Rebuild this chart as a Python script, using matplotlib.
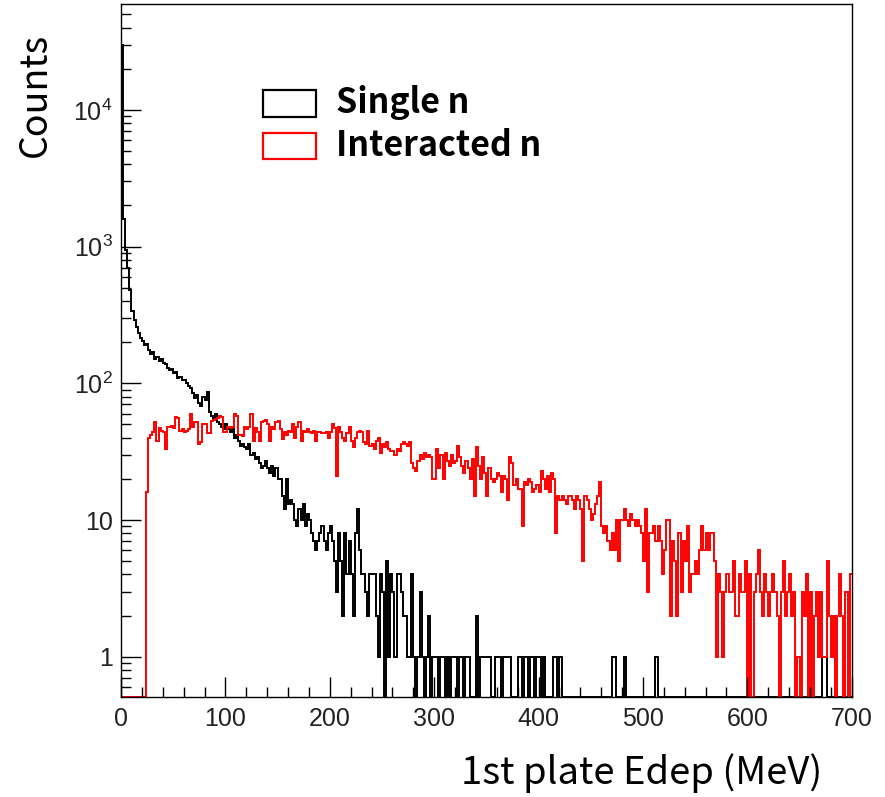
import numpy as np
import matplotlib
matplotlib.use('Agg')
import matplotlib.pyplot as plt
from matplotlib.patches import Rectangle

# fonts: Helvetica-like for the ROOT tick labels, Noto for titles/legend
tick_font = ['Liberation Sans', 'DejaVu Sans']
title_font = ['Noto Sans CJK KR', 'Noto Sans', 'DejaVu Sans']
plt.rcParams['font.family'] = tick_font
plt.rcParams['mathtext.fontset'] = 'custom'
plt.rcParams['mathtext.rm'] = 'Liberation Sans'
plt.rcParams['mathtext.it'] = 'Liberation Sans'

# histogram binning: 350 bins of 2 MeV from 0 to 700
edges = np.linspace(0, 700, 351)

# Single n (counts per bin)
single_n = [
    30000, 1600, 950, 700, 480, 340, 290, 260, 235, 215,
    205, 190, 195, 175, 165, 170, 150, 155, 145, 150,
    140, 138, 130, 125, 128, 118, 120, 110, 112, 105,
    105, 100, 96, 92, 85, 78, 82, 72, 68, 80,
    75, 86, 62, 58, 55, 60, 52, 50, 48, 46,
    50, 46, 44, 48, 40, 42, 38, 35, 36, 34,
    33, 36, 30, 31, 28, 29, 26, 24, 25, 27,
    24, 22, 25, 21, 24, 20, 20, 15, 12, 20,
    13, 14, 13, 10, 9, 12, 10, 13, 9, 11,
    10, 8, 7, 6, 7, 8, 9, 7, 6, 8,
    9, 7, 5, 3, 8, 5, 2, 8, 4, 7,
    4, 2, 8, 12, 6, 4, 4, 3, 2, 4,
    4, 4, 2, 1, 4, 3, 0, 5, 1, 4,
    3, 1, 4, 4, 3, 2, 2, 1, 1, 4,
    1, 0, 1, 3, 1, 0, 1, 2, 0, 1,
    1, 1, 0, 1, 1, 0, 1, 0, 1, 1,
    1, 0, 1, 1, 0, 1, 1, 0, 0, 0,
    2, 0, 1, 1, 1, 1, 1, 0, 0, 1,
    1, 1, 0, 1, 1, 1, 1, 0, 0, 0,
    1, 1, 0, 1, 1, 0, 1, 1, 0, 1,
    1, 0, 1, 0, 0, 0, 0, 1, 1, 0,
    1, 0, 0, 0, 0, 0, 0, 0, 0, 0,
    0, 0, 0, 0, 0, 0, 0, 0, 0, 0,
    0, 0, 0, 0, 0, 1, 1, 0, 0, 0,
    0, 1, 0, 0, 0, 0, 0, 0, 0, 0,
    0, 0, 0, 0, 0, 0, 1, 0, 0, 0,
] + [0] * 70 + [
    0, 0, 0, 0, 0, 0, 1, 1, 0, 0,
    0, 0, 0, 0, 0, 0, 0, 0, 0, 0,
]

# Interacted n (counts per bin)
interacted_n = [
    0, 0, 0, 0, 0, 0, 0, 0, 0, 0,
    0, 0, 16, 40, 42, 44, 52, 38, 47, 45,
    44, 33, 48, 48, 49, 47, 57, 56, 45, 46,
    44, 45, 46, 60, 48, 52, 52, 36, 37, 50,
    50, 43, 43, 53, 54, 55, 56, 58, 57, 44,
    44, 48, 47, 48, 60, 58, 42, 42, 41, 48,
    46, 48, 60, 38, 47, 44, 38, 52, 53, 54,
    50, 38, 48, 46, 52, 53, 46, 39, 44, 42,
    45, 44, 50, 40, 48, 52, 38, 45, 44, 46,
    44, 43, 45, 38, 44, 44, 43, 43, 44, 40,
    44, 50, 47, 21, 48, 44, 40, 38, 43, 48,
    38, 34, 40, 44, 45, 44, 37, 36, 45, 35,
    36, 33, 38, 40, 31, 36, 34, 37, 33, 32,
    32, 30, 33, 32, 36, 37, 36, 35, 37, 26,
    24, 23, 27, 30, 28, 31, 29, 30, 29, 20,
    20, 33, 24, 30, 20, 31, 27, 25, 30, 26,
    27, 35, 29, 25, 22, 27, 24, 20, 28, 15,
    34, 25, 20, 29, 22, 15, 24, 20, 19, 20,
    22, 21, 16, 21, 20, 14, 29, 26, 18, 20,
    17, 17, 9, 19, 18, 20, 19, 16, 17, 18,
    16, 23, 20, 17, 21, 16, 22, 20, 8, 15,
    14, 15, 14, 13, 15, 15, 14, 12, 15, 14,
    12, 5, 15, 14, 12, 10, 11, 13, 15, 19,
    9, 8, 9, 7, 6, 8, 6, 10, 5, 10,
    10, 12, 10, 9, 11, 10, 9, 10, 9, 8,
    5, 12, 3, 8, 8, 9, 7, 9, 7, 4,
    6, 10, 10, 2, 7, 5, 2, 8, 3, 7,
    5, 9, 3, 4, 4, 5, 4, 6, 9, 6,
    8, 6, 8, 8, 5, 1, 4, 3, 1, 3,
    4, 3, 3, 5, 2, 2, 4, 3, 3, 5,
    0, 4, 0, 3, 4, 6, 3, 2, 4, 3,
    2, 3, 4, 3, 2, 0, 3, 5, 2, 3,
    4, 2, 3, 0, 1, 0, 3, 2, 4, 0,
    3, 0, 2, 3, 1, 3, 1, 1, 5, 2,
    1, 2, 0, 2, 4, 2, 0, 3, 0, 4,
]

labels = ['Single n', 'Interacted n']
colors = ['black', '#ff0000']

ymin, ymax = 0.505, 5.95e4

fig = plt.figure(figsize=(8.85, 7.97), dpi=100)
ax = fig.add_axes([121/885, 99.7/797, 730.7/885, 693.3/797])

# empty bins are drawn along the bottom of the frame, like ROOT does
for vals, col in zip([single_n, interacted_n], colors):
    v = np.array(vals, dtype=float)
    v = np.where(v > 0, v, ymin)
    ax.stairs(v, edges, color=col, linewidth=1.4, baseline=None)

ax.set_yscale('log')
ax.set_xlim(0, 700)
ax.set_ylim(ymin, ymax)

ax.set_xticks(np.arange(0, 701, 100))
ax.set_xticks(np.arange(0, 701, 20), minor=True)
ax.set_yticks([1, 10, 100, 1000, 10000])
ax.set_yticklabels(['1', '10', r'$10^{2}$', r'$10^{3}$', r'$10^{4}$'])
ax.yaxis.set_minor_locator(matplotlib.ticker.LogLocator(base=10, subs=np.arange(2, 10)))
ax.yaxis.set_minor_formatter(matplotlib.ticker.NullFormatter())

ax.tick_params(which='both', direction='in', top=False, right=False,
               width=1.0, colors='black', labelcolor='#222222', labelsize=18)
ax.tick_params(which='major', length=14.5)
ax.tick_params(which='minor', length=7.5)
ax.tick_params(axis='x', pad=7)
ax.tick_params(axis='y', pad=6)
for sp in ax.spines.values():
    sp.set_linewidth(1.0)

# axis titles
fig.text(35/885, 1 - 95/797, 'Counts', rotation=90, ha='center', va='center',
         fontsize=27, family=title_font)
fig.text(822/885, 1 - 773/797, '1st plate Edep (MeV)', ha='right', va='center',
         fontsize=27.5, family=title_font)

# legend boxes and labels
box_y = [90, 132.5]
for i in range(2):
    fig.patches.append(Rectangle((263/885, 1 - (box_y[i] + 26.5)/797), 53/885, 26.5/797,
                                 transform=fig.transFigure, facecolor='none',
                                 edgecolor=colors[i], linewidth=1.6))
    fig.text(336/885, 1 - (box_y[i] + 13)/797, labels[i], ha='left', va='center',
             fontsize=24.5, family=title_font, weight='bold')

plt.savefig('out.png', dpi=100)
